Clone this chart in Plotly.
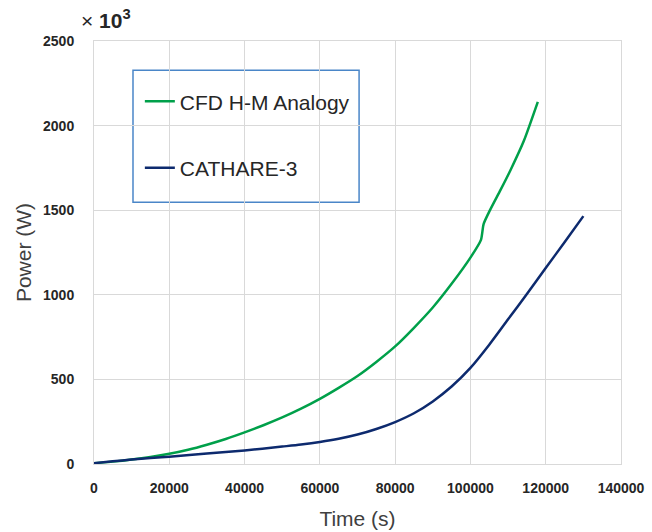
import plotly.graph_objects as go

# CFD H-M Analogy series (time in s, power in kW i.e. x10^3 W)
t_cfd = [0, 5000, 10000, 15000, 20000, 25000, 30000, 35000, 40000, 45000, 50000,
         55000, 60000, 65000, 70000, 75000, 80000, 85000, 90000, 95000, 100000,
         102800, 103500, 105300, 108000, 110600, 114200, 117900]
p_cfd = [5, 14, 26, 41, 60, 84, 114, 148, 187, 229, 275,
         327, 385, 450, 520, 603, 695, 805, 925, 1065, 1220,
         1325, 1418, 1505, 1620, 1735, 1910, 2140]

# CATHARE-3 series
t_cat = [0, 5000, 10000, 15000, 20000, 30000, 40000, 50000, 55000, 60000, 65000, 70000,
         75000, 80000, 85000, 90000, 95000, 100000, 105000, 110000, 115000,
         120000, 125000, 130000]
p_cat = [5, 16, 26, 35, 43, 62, 80, 103, 115, 130, 149, 174,
         207, 248, 300, 370, 458, 568, 705, 855, 1005,
         1158, 1311, 1465]

x_ticks = [0, 20000, 40000, 60000, 80000, 100000, 120000, 140000]
y_ticks = [0, 500, 1000, 1500, 2000, 2500]

GREEN = "#00A04A"
NAVY = "#0D2A6E"
GRID = "#D9D9D9"
FONT = "Liberation Sans"

fig = go.Figure()
fig.add_trace(go.Scatter(x=t_cfd, y=p_cfd, mode="lines", name="CFD H-M Analogy",
                         line=dict(color=GREEN, width=2.5, shape="spline", smoothing=0.6),
                         legendgroup="a"))
fig.add_trace(go.Scatter(x=t_cat, y=p_cat, mode="lines", name="CATHARE-3",
                         line=dict(color=NAVY, width=2.5, shape="spline", smoothing=0.8),
                         legendgroup="b"))

fig.update_layout(
    width=652, height=532,
    margin=dict(l=94, r=31, t=41, b=68),
    paper_bgcolor="white", plot_bgcolor="white",
    font=dict(family=FONT, color="#404040"),
    showlegend=True,
    legend=dict(x=0.087, y=0.905, xanchor="left", yanchor="top",
                bgcolor="rgba(0,0,0,0)", borderwidth=0,
                font=dict(size=21, color="#262626", family=FONT),
                tracegroupgap=36, itemwidth=30),
    xaxis=dict(range=[0, 140000], tickvals=x_ticks,
               ticktext=[f"<b>{v}</b>" for v in x_ticks],
               showgrid=True, gridcolor=GRID, gridwidth=1,
               showline=True, linecolor=GRID, linewidth=1, mirror=True,
               zeroline=False, ticks="", ticklabelstandoff=11, automargin=False,
               tickfont=dict(size=14, color="#262626", family=FONT),
               title=dict(text="Time (s)", font=dict(size=21, color="#404040"), standoff=16)),
    yaxis=dict(range=[0, 2500], tickvals=y_ticks,
               ticktext=[f"<b>{v}</b>" for v in y_ticks],
               showgrid=True, gridcolor=GRID, gridwidth=1,
               showline=True, linecolor=GRID, linewidth=1, mirror=True,
               zeroline=False, ticks="", ticklabelstandoff=16, automargin=False,
               tickfont=dict(size=14, color="#262626", family=FONT),
               title=dict(text="Power (W)", font=dict(size=21, color="#404040"), standoff=5)),
)

# legend frame
fig.add_shape(type="rect", xref="paper", yref="paper",
              x0=0.074, x1=0.503, y0=0.619, y1=0.931,
              line=dict(color="#4A86C8", width=1.5), fillcolor="white", layer="below")

fig.add_annotation(xref="paper", yref="paper", x=-0.029, y=1.052,
                   xanchor="left", yanchor="middle", showarrow=False,
                   text="× <b>10<sup>3</sup></b>",
                   font=dict(size=21, color="#262626", family=FONT))

fig.write_html("out.html")
